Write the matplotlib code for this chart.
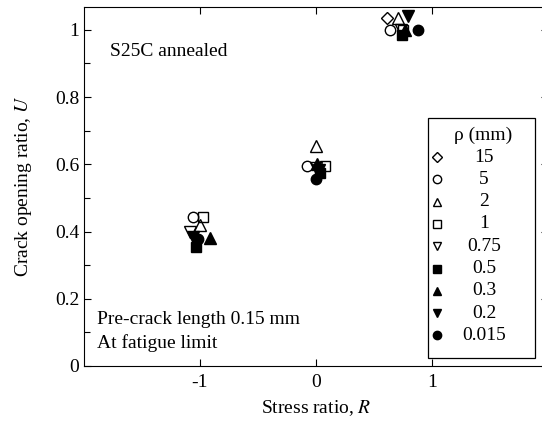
import matplotlib
matplotlib.use("Agg")
import matplotlib.pyplot as plt
from matplotlib.patches import Rectangle

plt.rcParams['font.family'] = ['Liberation Serif', 'DejaVu Serif']
plt.rcParams['mathtext.fontset'] = 'stix'

# Notch root radius (mm) series
rho_labels = ['15', '5', '2', '1', '0.75', '0.5', '0.3', '0.2', '0.015']
markers    = ['D', 'o', '^', 's', 'v', 's', '^', 'v', 'o']
filled     = [False, False, False, False, False, True, True, True, True]

# Stress ratio R (plotted with small horizontal offsets as in the figure) and U
R_15 = [0.61];                 U_15 = [1.035]
R_5 = [-1.057, -0.075, 0.64];  U_5 = [0.444, 0.595, 1.0]
R_2 = [-1.0, 0.0, 0.71];       U_2 = [0.42, 0.653, 1.035]
R_1 = [-0.97, 0.075, 0.75];    U_1 = [0.444, 0.595, 1.0]
R_075 = [-1.085, 0.0, 0.73];   U_075 = [0.40, 0.59, 1.0]
R_05 = [-1.035, 0.035, 0.74];  U_05 = [0.355, 0.573, 0.985]
R_03 = [-0.915, 0.01, 0.77];   U_03 = [0.38, 0.60, 1.0]
R_02 = [-1.06, 0.03, 0.795];   U_02 = [0.385, 0.583, 1.04]
R_0015 = [-1.015, 0.0, 0.88];  U_0015 = [0.377, 0.556, 1.0]

R_all = [R_15, R_5, R_2, R_1, R_075, R_05, R_03, R_02, R_0015]
U_all = [U_15, U_5, U_2, U_1, U_075, U_05, U_03, U_02, U_0015]

xticks = [-1, 0, 1]
xticklabels = ['-1', '0', '1']
yticks = [0, 0.2, 0.4, 0.6, 0.8, 1.0]
yticklabels = ['0', '0.2', '0.4', '0.6', '0.8', '1']

W, H = 542, 422
RIGHT = 548
fig = plt.figure(figsize=(W / 100, H / 100), dpi=100)
ax = fig.add_axes([84 / W, 56 / H, (RIGHT - 84) / W, (366 - 7) / H])

fs = 14
msizes = {'D': 6.5, 'o': 7.5, '^': 8, 's': 7.5, 'v': 8}
for R, U, m, f in zip(R_all, U_all, markers, filled):
    ax.plot(R, U, linestyle='none', marker=m, markersize=msizes[m],
            markerfacecolor='black' if f else 'none',
            markeredgecolor='black', markeredgewidth=1.0, zorder=3 if f else 2)

ax.set_xlim(-2, 2)
ax.set_ylim(0, 1.068)
ax.set_xticks(xticks)
ax.set_xticklabels(xticklabels)
ax.set_yticks(yticks)
ax.set_yticklabels(yticklabels)
ax.set_yticks([0.1, 0.3, 0.5, 0.7, 0.9], minor=True)
ax.tick_params(which='both', direction='in', top=True, right=True,
               labelsize=fs, width=0.8)
ax.tick_params(which='major', length=5)
ax.tick_params(which='minor', length=4)
ax.tick_params(axis='x', pad=6)
for s in ax.spines.values():
    s.set_linewidth(0.8)
ax.spines['right'].set_visible(False)

ax.set_xlabel('Stress ratio, $R$', fontsize=fs, labelpad=5)
ax.set_ylabel('Crack opening ratio, $U$', fontsize=fs, labelpad=15)

def ax_x(px):
    return (px - 84) / (RIGHT - 84)

def ax_y(py):
    return (366 - py) / (366 - 7)

ax.text(ax_x(110), ax_y(52), 'S25C annealed', transform=ax.transAxes,
        fontsize=fs, ha='left', va='center')
ax.text(ax_x(97), ax_y(320), 'Pre-crack length 0.15 mm',
        transform=ax.transAxes, fontsize=fs, ha='left', va='center')
ax.text(ax_x(97), ax_y(343), 'At fatigue limit', transform=ax.transAxes,
        fontsize=fs, ha='left', va='center')

# Manual legend box
ax.add_patch(Rectangle((ax_x(428), ax_y(358)), ax_x(535) - ax_x(428),
                       ax_y(118) - ax_y(358), transform=ax.transAxes,
                       facecolor='white', edgecolor='black', linewidth=0.9,
                       zorder=5))
ax.text(ax_x(483), ax_y(135), 'ρ (mm)', transform=ax.transAxes, fontsize=fs,
        ha='center', va='center', zorder=6)
for i, (lab, m, f) in enumerate(zip(rho_labels, markers, filled)):
    yy = ax_y(157 + i * 22.3)
    ax.plot([ax_x(437)], [yy], transform=ax.transAxes, linestyle='none',
            marker=m, markersize=msizes[m] * 0.8,
            markerfacecolor='black' if f else 'none',
            markeredgecolor='black', markeredgewidth=1.0, zorder=6,
            clip_on=False)
    ax.text(ax_x(484), yy, lab, transform=ax.transAxes, fontsize=fs,
            ha='center', va='center', zorder=6)

fig.savefig('out.png', dpi=100)
